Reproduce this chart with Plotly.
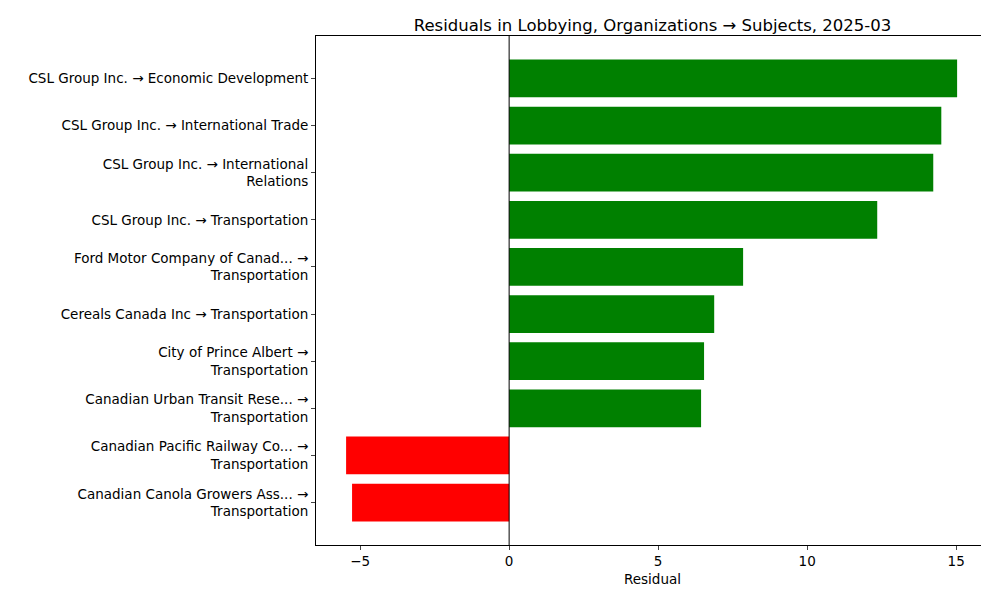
import plotly.graph_objects as go

labels = [
    "CSL Group Inc. → Economic Development",
    "CSL Group Inc. → International Trade",
    "CSL Group Inc. → International<br>Relations",
    "CSL Group Inc. → Transportation",
    "Ford Motor Company of Canad... →<br>Transportation",
    "Cereals Canada Inc → Transportation",
    "City of Prince Albert →<br>Transportation",
    "Canadian Urban Transit Rese... →<br>Transportation",
    "Canadian Pacific Railway Co... →<br>Transportation",
    "Canadian Canola Growers Ass... →<br>Transportation",
]
residuals = [15.03, 14.5, 14.23, 12.35, 7.85, 6.88, 6.54, 6.44, -5.47, -5.27]
colors = ["green" if v > 0 else "red" for v in residuals]

fig = go.Figure(go.Bar(
    x=residuals, y=labels, orientation="h", marker_color=colors,
    marker_line_width=0, width=0.8,
))
fig.update_layout(
    width=989, height=590, plot_bgcolor="white", paper_bgcolor="white",
    margin=dict(l=308, r=8, t=28, b=53, autoexpand=False),
    font=dict(family="DejaVu Sans", size=13.5, color="black"),
    title=dict(text="Residuals in Lobbying, Organizations → Subjects, 2025-03",
               x=(308 + 981) / 2 / 989, xanchor="center", y=0.97, yanchor="middle",
               font=dict(size=16.5)),
    showlegend=False,
)
fig.update_xaxes(range=[-6.48, 16.1], tickvals=[-5, 0, 5, 10, 15],
                 ticktext=["−5", "0", "5", "10", "15"], automargin=False,
                 showgrid=False, zeroline=False, showline=True, mirror=True,
                 linecolor="black", linewidth=1, ticks="outside", ticklen=4,
                 title=dict(text="Residual", standoff=6, font=dict(size=13.5)))
fig.update_yaxes(autorange=False, range=[9.9, -0.9], automargin=False,
                 showgrid=False, zeroline=False,
                 showline=True, mirror=True, linecolor="black", linewidth=1,
                 ticks="outside", ticklen=4)
fig.add_vline(x=0, line_color="black", line_width=1)
fig.write_html("out.html")
